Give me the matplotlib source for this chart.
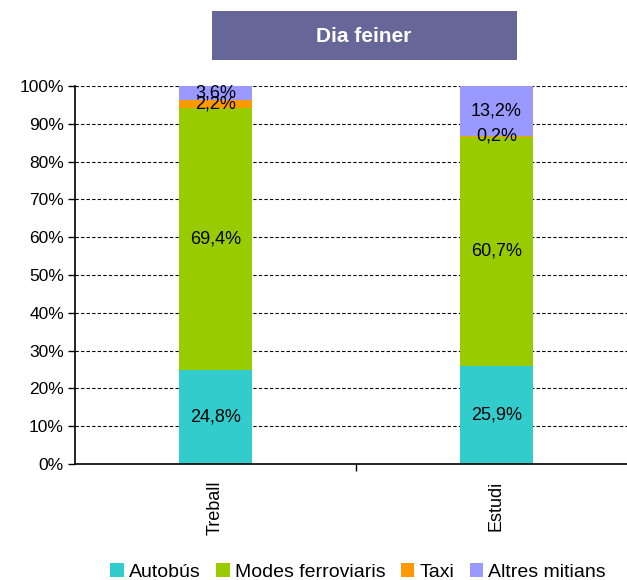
import matplotlib
matplotlib.use('Agg')
from matplotlib import pyplot as plt
import numpy as np

plt.rcParams['font.family'] = ['Liberation Sans', 'DejaVu Sans']

# dades
categories = ['Treball', 'Estudi']
series_names = ['Autobús', 'Modes ferroviaris', 'Taxi', 'Altres mitians']
autobus = [24.8, 25.9]
ferroviaris = [69.4, 60.7]
taxi = [2.2, 0.2]
altres = [3.6, 13.2]
colors = ['#33CCCC', '#99CC00', '#FF9900', '#9999FF']
title = 'Dia feiner'

fig = plt.figure(figsize=(6.27, 5.8), dpi=100)
ax = fig.add_axes([75/627, 0.2, (637-75)/627, 0.8517-0.2])

x = np.arange(len(categories))
bottom = np.zeros(len(categories))
for name, vals, c in zip(series_names, [autobus, ferroviaris, taxi, altres], colors):
    vals = np.array(vals)
    ax.bar(x, vals, 0.26, bottom=bottom, color=c, label=name, zorder=2)
    for xi, b, v in zip(x, bottom, vals):
        ax.text(xi, b + v/2, f'{v:.1f}%'.replace('.', ','), ha='center', va='center',
                fontsize=13, zorder=3)
    bottom += vals

ax.set_xlim(-0.5, 1.5)
ax.set_ylim(0, 100)
ax.set_yticks(np.arange(0, 101, 10))
ax.set_yticklabels([f'{v}%' for v in range(0, 101, 10)], fontsize=12.5)
ax.yaxis.grid(True, color='black', linestyle=(0, (3, 2)), linewidth=0.8, zorder=0)
ax.tick_params(axis='y', direction='out', length=5, width=1, pad=3)

ax.set_xticks(x)
ax.set_xticklabels(categories, rotation=90, fontsize=13)
ax.tick_params(axis='x', length=0, pad=12)
ax.set_xticks([0.5], minor=True)
ax.tick_params(axis='x', which='minor', direction='out', length=5, width=1)

for s in ['top', 'right']:
    ax.spines[s].set_visible(False)
ax.spines['left'].set_linewidth(1.2)
ax.spines['bottom'].set_linewidth(1.2)

# caixa del títol
box = plt.Rectangle((212/627, 1 - 60/580), (517-212)/627, 49/580, transform=fig.transFigure,
                    facecolor='#666699', edgecolor='none', zorder=0)
fig.patches.append(box)
fig.text(364/627, 1 - 36/580, title, ha='center', va='center', color='white',
         fontsize=15, fontweight='bold')

fig.legend(loc='center', bbox_to_anchor=(358/627, 1 - 572/580), ncol=4, frameon=False,
           fontsize=14, handlelength=0.7, handleheight=0.7, handletextpad=0.25,
           columnspacing=0.8)

fig.savefig('out.png', dpi=100)
